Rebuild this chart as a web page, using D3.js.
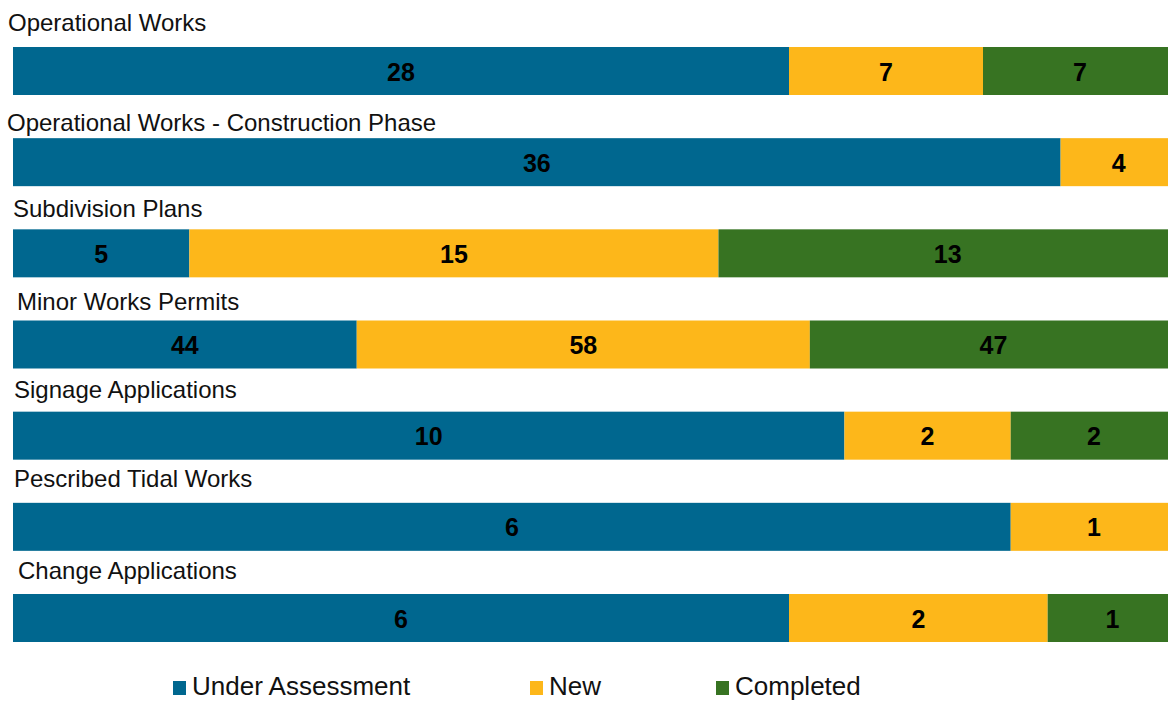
<!DOCTYPE html>
<html lang="en">
<head>
  <meta charset="utf-8" />
  <style>
    body { margin: 0; background: #fff; overflow: hidden; }
    text { font-family: "Liberation Sans", Arial, sans-serif; }
  </style>
</head>
<body>
<script src="https://cdn.jsdelivr.net/npm/d3@7"></script>
<script>
var categories = [
  "Operational Works",
  "Operational Works - Construction Phase",
  "Subdivision Plans",
  "Minor Works Permits",
  "Signage Applications",
  "Pescribed Tidal Works",
  "Change Applications"
];
var series = ["Under Assessment", "New", "Completed"];
var underAssessment = [28, 36, 5, 44, 10, 6, 6];
var newApps = [7, 4, 15, 58, 2, 1, 2];
var completed = [7, 0, 13, 47, 2, 0, 1];

var colors = ["#00678f", "#fdb71a", "#377322"];

// small per-row nudges for the titles, as in the original
var titleX = [8, 7, 13, 17, 14, 14, 18];
var titleGap = [16, 7, 12, 11, 14, 16, 15];

var width = 1168, height = 702, barH = 48;

var rows = categories.map(function(c, i){
  return { name: c, "Under Assessment": underAssessment[i], "New": newApps[i], "Completed": completed[i] };
});

var stack = d3.stack()
  .keys(series)
  .offset(d3.stackOffsetExpand);
var layers = stack(rows);

var x = d3.scaleLinear()
  .domain([0, 1])
  .range([13, 1177]);

var y = d3.scalePoint()
  .domain(categories)
  .range([47, 594]);

var color = d3.scaleOrdinal()
  .domain(series)
  .range(colors);

var svg = d3.select("body").append("svg")
  .attr("width", width)
  .attr("height", height);

svg.selectAll(".title")
  .data(categories)
  .enter()
  .append("text")
    .attr("class", "title")
    .attr("x", function(d, i){ return titleX[i]; })
    .attr("y", function(d, i){ return y(d) - titleGap[i]; })
    .style("font-size", "24px")
    .style("fill", "#111")
    .text(function(d){ return d; });

var layer = svg.selectAll(".layer")
  .data(layers)
  .enter()
  .append("g")
    .attr("class", "layer")
    .style("fill", function(d){ return color(d.key); });

layer.selectAll("rect")
  .data(function(d){ return d.filter(function(s){ return s[1] > s[0]; }); })
  .enter()
  .append("rect")
    .attr("x", function(d){ return x(d[0]); })
    .attr("y", function(d){ return y(d.data.name); })
    .attr("width", function(d){ return x(d[1]) - x(d[0]); })
    .attr("height", barH);

layer.selectAll(".val")
  .data(function(d){
    return d.filter(function(s){ return s[1] > s[0]; })
      .map(function(s){ s.key = d.key; return s; });
  })
  .enter()
  .append("text")
    .attr("class", "val")
    .attr("x", function(d){ return (x(d[0]) + x(d[1])) / 2; })
    .attr("y", function(d){ return y(d.data.name) + barH / 2 + 9.5; })
    .attr("text-anchor", "middle")
    .style("fill", "#000")
    .style("font-weight", "bold")
    .style("font-size", "25px")
    .text(function(d){ return d.data[d.key]; });

var legendX = [173, 530, 716];

var legend = svg.selectAll(".legend")
  .data(series)
  .enter()
  .append("g")
    .attr("class", "legend")
    .attr("transform", function(d, i){ return "translate(" + legendX[i] + ",0)"; });

legend.append("rect")
  .attr("x", 0)
  .attr("y", 681)
  .attr("width", 13)
  .attr("height", 14)
  .style("fill", function(d){ return color(d); });

legend.append("text")
  .attr("x", 19)
  .attr("y", 695)
  .style("font-size", "26px")
  .style("fill", "#111")
  .text(function(d){ return d; });
</script>
</body>
</html>
